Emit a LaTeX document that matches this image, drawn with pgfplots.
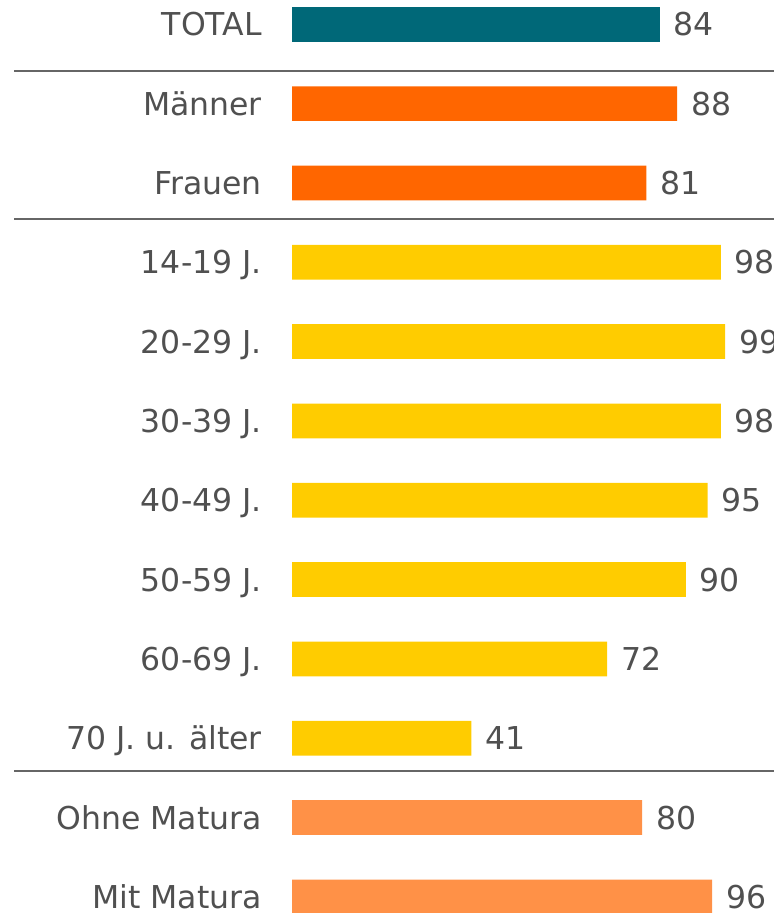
\documentclass[border=0pt]{standalone}
\usepackage{pgfplots}
\pgfplotsset{compat=1.18}
\usepackage{fontspec}
\setmainfont{DejaVu Sans}
\definecolor{cTotal}{HTML}{006878}
\definecolor{cSex}{HTML}{FF6600}
\definecolor{cAge}{HTML}{FFCC00}
\definecolor{cEdu}{HTML}{FF9147}
\definecolor{txt}{HTML}{505050}
\definecolor{sep}{HTML}{666666}
\begin{document}
\begin{tikzpicture}
\path[use as bounding box] (0,0) rectangle (774bp,913bp);
\begin{axis}[
  at={(292bp,0bp)}, anchor=south west,
  scale only axis, width=482bp, height=913bp,
  xmin=0, xmax=110.17, ymin=-0.306, ymax=11.203, y dir=reverse,
  axis line style={draw=none}, xtick=\empty,
  ytick={0,...,11},
  yticklabels={TOTAL,Männer,Frauen,14-19 J.,20-29 J.,30-39 J.,40-49 J.,50-59 J.,60-69 J.,70 J. u. älter,Ohne Matura,Mit Matura},
  major tick length=0pt,
  yticklabel style={anchor=east, inner sep=0pt, xshift=-30bp, text height=23bp, text depth=0pt, text=txt, font=\fontsize{31.5bp}{38bp}\selectfont},
  clip=false,
  bar width=0.4375,
  /pgf/number format/assume math mode=true,
  every node near coord/.style={anchor=west, inner sep=0pt, xshift=14bp, text=txt, text height=23bp, text depth=0pt, font=\fontsize{31.5bp}{38bp}\selectfont},
]
\addplot[xbar, fill=cTotal, draw=none, nodes near coords] coordinates {(84,0)};
\addplot[xbar, fill=cSex, draw=none, nodes near coords] coordinates {(88,1) (81,2)};
\addplot[xbar, fill=cAge, draw=none, nodes near coords] coordinates {(98,3) (99,4) (98,5) (95,6) (90,7) (72,8) (41,9)};
\addplot[xbar, fill=cEdu, draw=none, nodes near coords] coordinates {(80,10) (96,11)};
\addplot[sep, line width=2bp] coordinates {(-63.5,0.589) (110.17,0.589)};
\addplot[sep, line width=2bp] coordinates {(-63.5,2.454) (110.17,2.454)};
\addplot[sep, line width=2bp] coordinates {(-63.5,9.413) (110.17,9.413)};
\end{axis}
\end{tikzpicture}
\end{document}
